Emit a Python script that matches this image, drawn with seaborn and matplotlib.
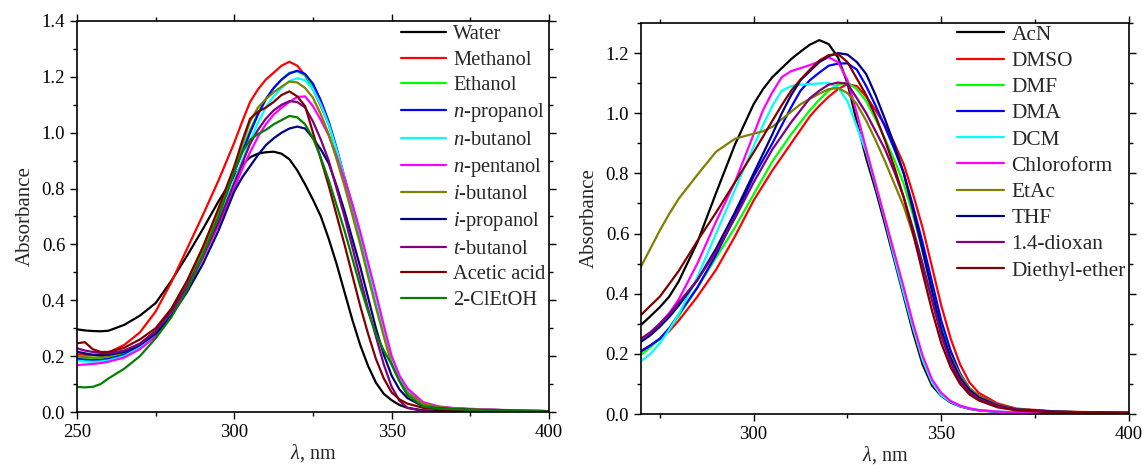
import numpy as np
import pandas as pd
import matplotlib
matplotlib.use("Agg")
import matplotlib.pyplot as plt
from matplotlib.ticker import MultipleLocator, FormatStrFormatter
import seaborn as sns

# ---------------- data: left panel (protic solvents) ----------------
wl_left = [250, 252.5, 255, 257.5, 260, 265, 270, 275, 280, 285, 290, 295, 300, 302.5, 305, 307.5,
           310, 312.5, 315, 317.5, 320, 322.5, 325, 327.5, 330, 332.5, 335, 337.5, 340, 342.5,
           345, 347.5, 350, 352.5, 355, 360, 365, 370, 380, 400]
water = [.296, .292, .290, .289, .291, .312, .345, .390, .470, .560, .655, .755, .845, .885, .912, .925,
         .930, .932, .925, .905, .865, .815, .760, .700, .620, .530, .430, .330, .240, .165,
         .105, .065, .042, .025, .015, .006, .004, .003, .002, .001]
methanol = [.207, .205, .204, .206, .213, .240, .285, .360, .465, .585, .705, .830, .965, 1.04, 1.11, 1.155,
            1.19, 1.215, 1.24, 1.254, 1.24, 1.205, 1.155, 1.095, 1.03, .94, .84, .73, .62, .505,
            .39, .28, .18, .115, .07, .03, .018, .012, .008, .003]
ethanol = [.195, .192, .190, .191, .195, .210, .240, .290, .370, .470, .590, .720, .870, .940, 1.01, 1.07,
           1.12, 1.16, 1.19, 1.215, 1.22, 1.205, 1.165, 1.105, 1.03, .935, .835, .73, .625, .51,
           .395, .285, .18, .115, .07, .03, .018, .012, .008, .003]
n_propanol = [.190, .187, .185, .186, .190, .205, .235, .280, .355, .455, .570, .700, .860, .930, 1.00, 1.065,
              1.12, 1.16, 1.19, 1.212, 1.222, 1.21, 1.175, 1.115, 1.04, .945, .84, .74, .635, .52,
              .405, .295, .185, .12, .075, .03, .018, .012, .008, .003]
n_butanol = [.184, .181, .180, .181, .185, .200, .230, .275, .350, .450, .565, .690, .830, .900, .970, 1.035,
             1.09, 1.13, 1.16, 1.185, 1.195, 1.188, 1.155, 1.10, 1.03, .94, .84, .74, .635, .52,
             .405, .295, .19, .12, .075, .03, .018, .012, .008, .003]
n_pentanol = [.168, .170, .172, .175, .180, .195, .225, .270, .345, .440, .550, .670, .800, .870, .930, .985,
              1.03, 1.065, 1.09, 1.11, 1.128, 1.13, 1.095, 1.045, .99, .915, .835, .745, .645, .535,
              .425, .31, .20, .13, .085, .035, .02, .014, .009, .003]
i_butanol = [.200, .197, .195, .196, .200, .215, .245, .290, .365, .465, .580, .710, .870, .960, 1.04, 1.09,
             1.12, 1.145, 1.165, 1.183, 1.18, 1.16, 1.125, 1.065, .995, .905, .81, .705, .60, .485,
             .375, .27, .17, .11, .07, .03, .018, .012, .008, .003]
i_propanol = [.216, .210, .205, .203, .205, .215, .240, .280, .345, .430, .530, .650, .790, .840, .880, .920,
              .955, .980, 1.0, 1.015, 1.022, 1.015, .98, .94, .89, .81, .72, .62, .52, .41,
              .30, .205, .13, .08, .05, .02, .013, .01, .006, .002]
t_butanol = [.228, .220, .215, .212, .210, .220, .245, .290, .360, .450, .560, .680, .820, .890, .960, 1.01,
             1.05, 1.08, 1.10, 1.113, 1.11, 1.09, 1.04, .975, .90, .80, .70, .59, .48, .37,
             .27, .17, .09, .04, .015, .003, .001, .001, .001, .0]
acetic_acid = [.246, .250, .225, .215, .215, .230, .260, .300, .370, .470, .590, .730, .880, .970, 1.05, 1.075,
               1.09, 1.11, 1.135, 1.148, 1.13, 1.095, 1.0, .905, .81, .705, .60, .49, .38, .28,
               .19, .12, .07, .045, .03, .015, .01, .008, .005, .002]
cletoh = [.090, .088, .090, .100, .120, .155, .200, .264, .340, .437, .560, .700, .860, .930, .975, .995,
          1.01, 1.03, 1.045, 1.06, 1.055, 1.03, .98, .91, .83, .74, .65, .55, .45, .36,
          .28, .22, .17, .11, .06, .02, .012, .01, .006, .002]

left_labels = ["Water", "Methanol", "Ethanol", r"$\mathit{n}$-propanol", r"$\mathit{n}$-butanol",
               r"$\mathit{n}$-pentanol", r"$\mathit{i}$-butanol", r"$\mathit{i}$-propanol",
               r"$\mathit{t}$-butanol", "Acetic acid", "2-ClEtOH"]
left_series = [water, methanol, ethanol, n_propanol, n_butanol, n_pentanol, i_butanol,
               i_propanol, t_butanol, acetic_acid, cletoh]
left_colors = ["#000000", "#ff0000", "#00ff00", "#0000ff", "#00ffff", "#ff00ff",
               "#808000", "#000080", "#800080", "#800000", "#008000"]

# ---------------- data: right panel (aprotic solvents) ----------------
wl_right = [270, 272.5, 275, 277.5, 280, 285, 290, 295, 300, 302.5, 305, 307.5, 310, 312.5, 315, 317.5,
            320, 322.5, 325, 327.5, 330, 332.5, 335, 337.5, 340, 342.5, 345, 347.5, 350, 352.5,
            355, 357.5, 360, 365, 370, 380, 390, 400]
acn = [.296, .325, .355, .390, .440, .570, .735, .895, 1.03, 1.08, 1.12, 1.15, 1.18, 1.205, 1.228, 1.243,
       1.23, 1.185, 1.10, .97, .85, .745, .63, .51, .39, .27, .165, .095, .06, .038,
       .025, .017, .012, .007, .005, .003, .002, .002]
dmso = [.210, .228, .250, .275, .310, .390, .480, .590, .710, .760, .810, .855, .900, .945, .990, 1.025,
        1.055, 1.08, 1.097, 1.09, 1.055, 1.01, .96, .90, .83, .73, .62, .49, .36, .25,
        .165, .105, .07, .035, .018, .009, .006, .004]
dmf = [.197, .222, .250, .285, .325, .420, .520, .620, .730, .785, .840, .885, .930, .970, 1.01, 1.045,
       1.075, 1.095, 1.102, 1.08, 1.04, .98, .915, .845, .765, .66, .54, .41, .29, .20,
       .13, .085, .06, .03, .016, .008, .005, .004]
dma = [.208, .228, .250, .285, .330, .420, .530, .655, .790, .845, .900, .960, 1.02, 1.075, 1.11, 1.135,
       1.158, 1.165, 1.166, 1.145, 1.09, 1.025, .955, .88, .80, .69, .57, .44, .31, .21,
       .135, .085, .06, .03, .016, .008, .005, .004]
dcm = [.175, .200, .235, .280, .330, .455, .600, .745, .890, .960, 1.025, 1.075, 1.09, 1.095, 1.097, 1.099,
       1.10, 1.085, 1.04, .955, .87, .76, .645, .52, .40, .285, .18, .105, .062, .04,
       .026, .018, .013, .008, .005, .003, .002, .002]
chloroform = [.249, .270, .300, .335, .380, .500, .640, .770, .930, 1.01, 1.07, 1.12, 1.14, 1.15, 1.16, 1.172,
              1.186, 1.17, 1.11, 1.0, .88, .765, .65, .535, .42, .30, .195, .115, .07, .043,
              .028, .019, .013, .008, .005, .003, .002, .002]
etac = [.490, .550, .610, .665, .715, .795, .872, .915, .932, .940, .955, .980, 1.005, 1.03, 1.048, 1.065,
        1.08, 1.084, 1.067, 1.03, .975, .91, .84, .765, .69, .595, .49, .38, .27, .19,
        .13, .085, .06, .03, .016, .008, .005, .004]
thf = [.240, .262, .290, .322, .360, .445, .550, .670, .800, .865, .930, 1.0, 1.06, 1.11, 1.14, 1.17,
       1.19, 1.20, 1.195, 1.17, 1.13, 1.06, .98, .895, .80, .675, .545, .41, .28, .185,
       .12, .08, .055, .028, .015, .008, .005, .004]
dioxan = [.250, .272, .300, .332, .370, .445, .540, .650, .770, .825, .880, .925, .970, 1.01, 1.05, 1.075,
          1.095, 1.102, 1.098, 1.05, 1.0, .94, .88, .805, .72, .615, .50, .38, .26, .17,
          .11, .072, .05, .026, .014, .007, .005, .004]
diethyl_ether = [.329, .360, .390, .432, .475, .575, .670, .770, .870, .922, .975, 1.027, 1.075, 1.112, 1.145, 1.175,
                 1.193, 1.197, 1.17, 1.115, 1.06, .99, .91, .82, .72, .60, .47, .345, .235, .155,
                 .10, .065, .045, .022, .012, .006, .004, .003]

right_labels = ["AcN", "DMSO", "DMF", "DMA", "DCM", "Chloroform", "EtAc", "THF", "1.4-dioxan", "Diethyl-ether"]
right_series = [acn, dmso, dmf, dma, dcm, chloroform, etac, thf, dioxan, diethyl_ether]
right_colors = ["#000000", "#ff0000", "#00ff00", "#0000ff", "#00ffff", "#ff00ff",
                "#808000", "#000080", "#800080", "#800000"]


def long_frame(wl, labels, series):
    rows = []
    for lab, vals in zip(labels, series):
        for w, v in zip(wl, vals):
            rows.append((lab, w, v))
    return pd.DataFrame(rows, columns=["solvent", "wl", "A"])


sns.set_theme(style="ticks")
plt.rcParams["font.family"] = ["Liberation Serif", "DejaVu Serif"]
plt.rcParams["mathtext.fontset"] = "custom"
plt.rcParams["mathtext.rm"] = "Liberation Serif"
plt.rcParams["mathtext.it"] = "Liberation Serif:italic"
plt.rcParams["axes.linewidth"] = 1.2
plt.rcParams["lines.solid_joinstyle"] = "round"

fig = plt.figure(figsize=(11.42, 4.65), dpi=100)
W, H = 1142, 465
axL = fig.add_axes([77 / W, 1 - 412 / H, (549 - 77) / W, (412 - 21) / H])
axR = fig.add_axes([641 / W, 1 - 414 / H, (1129 - 641) / W, (414 - 23) / H])


def style_axis(ax, xlim, ylim, ymajor):
    ax.set_xlim(*xlim)
    ax.set_ylim(*ylim)
    ax.xaxis.set_major_locator(MultipleLocator(50))
    ax.xaxis.set_minor_locator(MultipleLocator(25))
    ax.yaxis.set_major_locator(MultipleLocator(ymajor))
    ax.yaxis.set_minor_locator(MultipleLocator(ymajor / 2))
    ax.yaxis.set_major_formatter(FormatStrFormatter("%.1f"))
    for s in ax.spines.values():
        s.set_visible(True)
        s.set_color("black")
        s.set_linewidth(1.2)
    ax.tick_params(which="both", direction="out", top=True, right=True,
                   labeltop=False, labelright=False, colors="black")
    ax.tick_params(which="major", length=5, width=1.0, labelsize=13.5)
    ax.tick_params(which="minor", length=3, width=1.0)
    ax.set_xlabel(r"$\lambda$, nm", fontsize=14.5, labelpad=1)
    ax.set_ylabel("Absorbance", fontsize=15, labelpad=5)


dfL = long_frame(wl_left, left_labels, left_series)
sns.lineplot(data=dfL, x="wl", y="A", hue="solvent", hue_order=left_labels,
             palette=left_colors, linewidth=1.6, ax=axL, sort=True, estimator=None)
style_axis(axL, (250, 400), (0, 1.4), 0.2)

dfR = long_frame(wl_right, right_labels, right_series)
sns.lineplot(data=dfR, x="wl", y="A", hue="solvent", hue_order=right_labels,
             palette=right_colors, linewidth=1.6, ax=axR, sort=True, estimator=None)
style_axis(axR, (270, 400), (0, 1.3), 0.2)

for ax, x0, fs, hl, ls in ((axL, 401, 14.8, 2.2, 0.295), (axR, 957, 15.4, 2.2, 0.29)):
    h, l = ax.get_legend_handles_labels()
    ax.legend(h, l, loc="upper left", bbox_to_anchor=(x0 / W, 1 - 25 / H),
              bbox_transform=fig.transFigure, frameon=False, fontsize=fs,
              handlelength=hl, handletextpad=0.35, labelspacing=ls,
              borderpad=0, borderaxespad=0)

fig.savefig("out.png", dpi=100)
